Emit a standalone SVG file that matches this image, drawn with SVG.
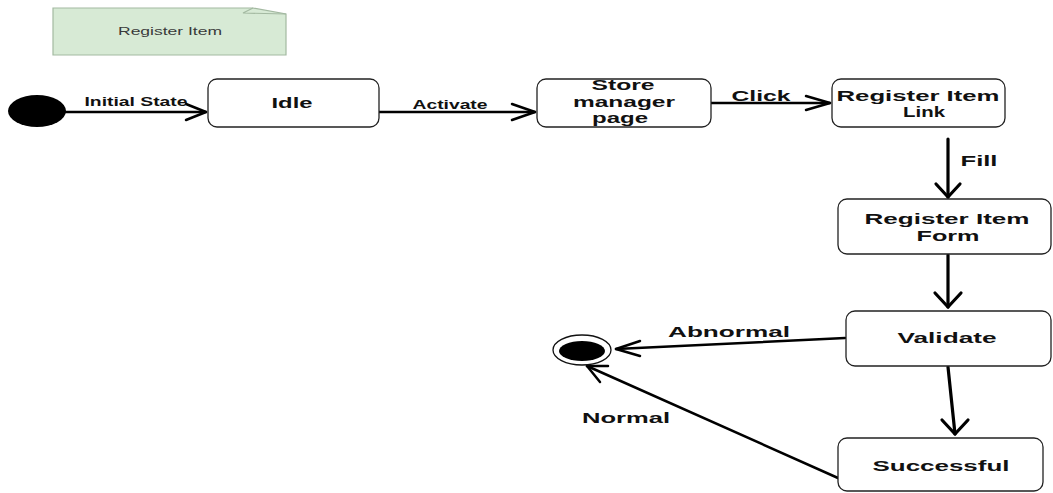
<svg xmlns="http://www.w3.org/2000/svg" width="1053" height="493" viewBox="0 0 1053 493">
  <style>
    .state { fill: #ffffff; stroke: #222222; stroke-width: 1.3; }
    .lbl { font-family: "Liberation Sans", Arial, sans-serif; font-weight: bold; fill: #111111; text-anchor: middle; }
    .box { font-size: 15.5px; }
    .tight { font-size: 14px; }
    .edge { fill: none; stroke: #000000; stroke-width: 2.5; stroke-linecap: round; stroke-linejoin: round; }
    .thick { stroke-width: 3.2; }
    .note { fill: #d7ead5; stroke: #a3b9a1; stroke-width: 1.2; }
    .notetxt { font-family: "Liberation Sans", Arial, sans-serif; font-size: 10px; fill: #3a3a3a; text-anchor: middle; }
  </style>

  <rect width="1053" height="493" fill="#ffffff"/>

  <!-- title note -->
  <g id="note">
    <path class="note" d="M53,8 H253 L286,14 V55 H53 Z"/>
    <path d="M253,8 L243,13 L286,14" fill="none" stroke="#a3b9a1" stroke-width="1.2"/>
    <text class="notetxt" x="170" y="35" textLength="104" lengthAdjust="spacingAndGlyphs">Register Item</text>
  </g>

  <!-- transitions -->
  <g id="connectors">
    <!-- start -> Idle -->
    <line class="edge" x1="65" y1="112" x2="206" y2="112"/>
    <polyline class="edge" points="186,104 206,112 186,120"/>
    <text class="lbl" x="136" y="106" font-size="12.5" textLength="103" lengthAdjust="spacingAndGlyphs">Initial State</text>

    <!-- Idle -> Store manager page -->
    <line class="edge" x1="379" y1="112" x2="535" y2="112"/>
    <polyline class="edge" points="512,104 535,112 512,120"/>
    <text class="lbl" x="450" y="109" font-size="12.5" textLength="75" lengthAdjust="spacingAndGlyphs">Activate</text>

    <!-- Store manager page -> Register Item Link -->
    <line class="edge" x1="711" y1="103" x2="830" y2="103"/>
    <polyline class="edge" points="806,96 830,103 806,110"/>
    <text class="lbl" x="761" y="101" font-size="15" textLength="59" lengthAdjust="spacingAndGlyphs">Click</text>

    <!-- Register Item Link -> Register Item Form -->
    <line class="edge thick" x1="948" y1="139" x2="948" y2="197"/>
    <polyline class="edge thick" points="936,184 948,197 960,184"/>
    <text class="lbl" x="979" y="166" font-size="14" textLength="37" lengthAdjust="spacingAndGlyphs">Fill</text>

    <!-- Register Item Form -> Validate -->
    <line class="edge thick" x1="948" y1="255" x2="948" y2="307"/>
    <polyline class="edge thick" points="935,293 948,307 961,293"/>

    <!-- Validate -> Successful -->
    <line class="edge thick" x1="948" y1="367" x2="955" y2="434"/>
    <polyline class="edge thick" points="942,420 955,434 968,420"/>

    <!-- Validate -> final (Abnormal) -->
    <line class="edge" x1="845" y1="338" x2="616" y2="349"/>
    <polyline class="edge" points="640,341 616,349 640,356"/>
    <text class="lbl" x="729" y="337" font-size="15" textLength="122" lengthAdjust="spacingAndGlyphs">Abnormal</text>

    <!-- Successful -> final (Normal) -->
    <line class="edge" x1="838" y1="478" x2="587" y2="366"/>
    <polyline class="edge" points="608,366 587,366 600,382"/>
    <text class="lbl" x="626" y="423" font-size="15" textLength="88" lengthAdjust="spacingAndGlyphs">Normal</text>
  </g>

  <!-- initial pseudo-state -->
  <g id="start">
    <ellipse cx="37" cy="111" rx="29" ry="16" fill="#000000"/>
  </g>

  <g id="idle">
    <rect class="state" x="208" y="79" width="171" height="48" rx="9"/>
    <text class="lbl box" x="292" y="108" textLength="41" lengthAdjust="spacingAndGlyphs">Idle</text>
  </g>

  <g id="store-manager-page">
    <rect class="state" x="537" y="79" width="174" height="48" rx="9"/>
    <text class="lbl tight" x="623" y="90" textLength="63" lengthAdjust="spacingAndGlyphs">Store</text>
    <text class="lbl tight" x="624" y="106.5" textLength="102" lengthAdjust="spacingAndGlyphs">manager</text>
    <text class="lbl tight" x="620" y="123" textLength="56" lengthAdjust="spacingAndGlyphs">page</text>
  </g>

  <g id="register-item-link">
    <rect class="state" x="832" y="79" width="173" height="48" rx="9"/>
    <text class="lbl box" x="918" y="101" textLength="163" lengthAdjust="spacingAndGlyphs">Register Item</text>
    <text class="lbl box" x="924" y="117" textLength="42" lengthAdjust="spacingAndGlyphs">Link</text>
  </g>

  <g id="register-item-form">
    <rect class="state" x="838" y="199" width="213" height="55" rx="9"/>
    <text class="lbl box" x="947" y="224" textLength="165" lengthAdjust="spacingAndGlyphs">Register Item</text>
    <text class="lbl box" x="948" y="241" textLength="63" lengthAdjust="spacingAndGlyphs">Form</text>
  </g>

  <g id="validate">
    <rect class="state" x="846" y="311" width="205" height="55" rx="9"/>
    <text class="lbl box" x="947" y="343" textLength="99" lengthAdjust="spacingAndGlyphs">Validate</text>
  </g>

  <g id="successful">
    <rect class="state" x="838" y="438" width="205" height="53" rx="9"/>
    <text class="lbl box" x="941" y="471" textLength="137" lengthAdjust="spacingAndGlyphs">Successful</text>
  </g>

  <!-- final state -->
  <g id="end">
    <ellipse cx="582" cy="350" rx="29" ry="15" fill="#ffffff" stroke="#111111" stroke-width="1.3"/>
    <ellipse cx="582" cy="351" rx="23" ry="10" fill="#000000"/>
  </g>
</svg>
